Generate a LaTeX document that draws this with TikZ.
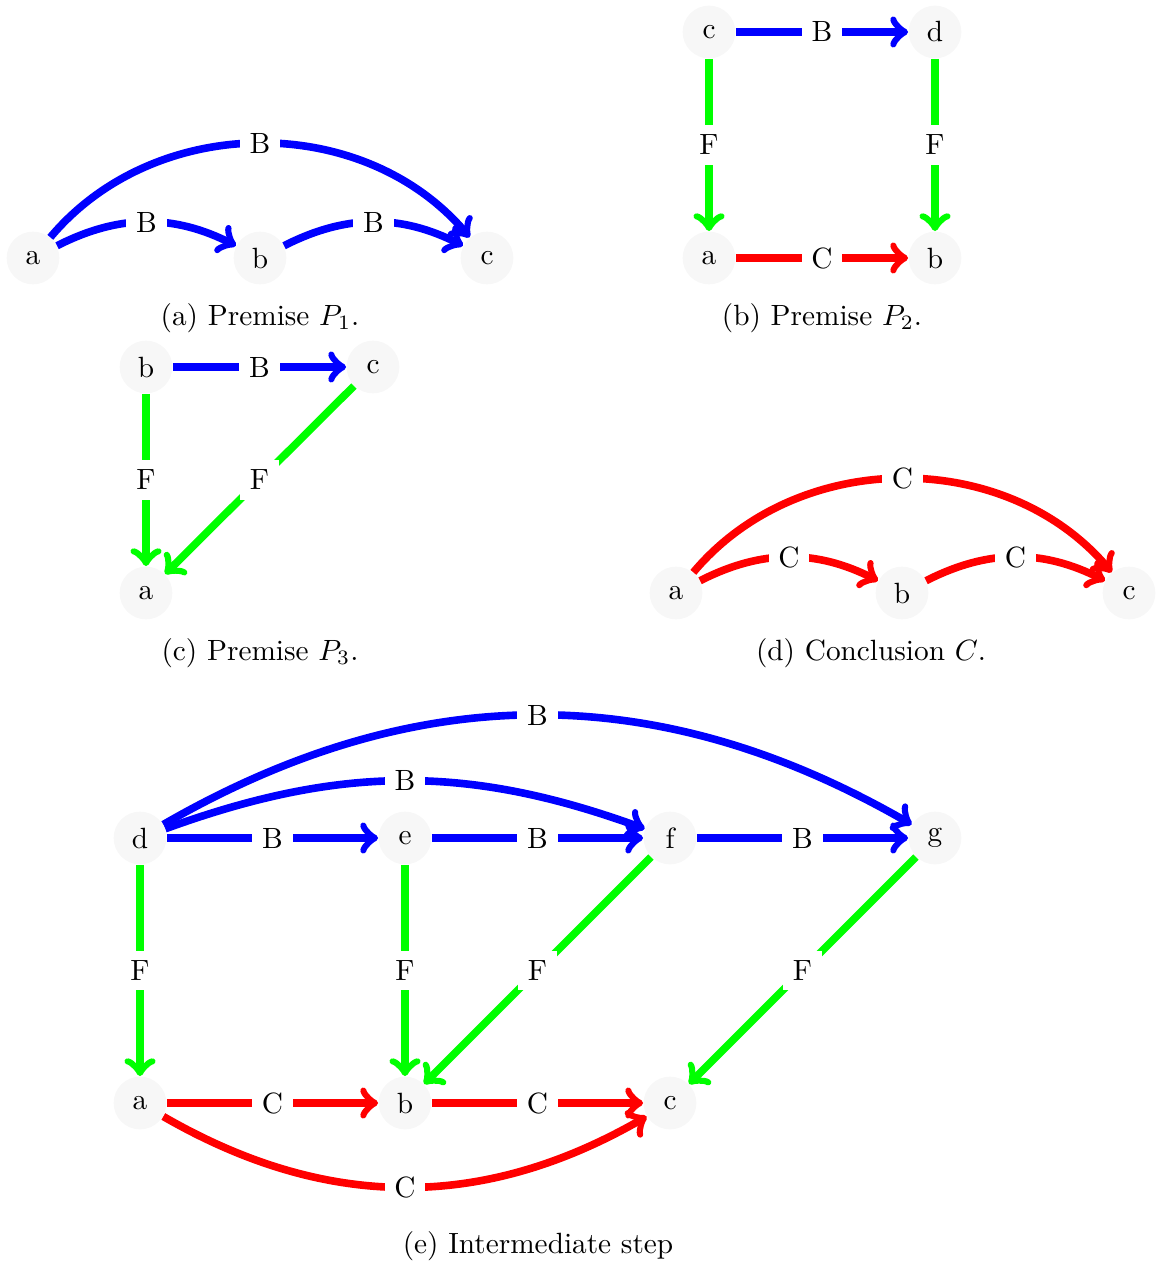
\documentclass[tikz,border=0pt]{standalone}
\begin{document}
\begin{tikzpicture}[x=0.3413pt,y=-0.3413pt,
  vtx/.style={circle,fill=black!3,minimum size=18pt,inner sep=0pt},
  lbl/.style={fill=white,midway},
  eB/.style={draw=blue,line width=2.6pt,->},
  eF/.style={draw=green,line width=2.6pt,->},
  eC/.style={draw=red,line width=2.6pt,->}]
\useasboundingbox (0,0) rectangle (1155,1266);
% (a)
\node[vtx] (a1) at (33,258) {a};
\node[vtx] (b1) at (260,258) {b};
\node[vtx] (c1) at (487,258) {c};
\draw[eB] (a1) to[bend left=27] node[lbl]{B} (b1);
\draw[eB] (b1) to[bend left=27] node[lbl]{B} (c1);
\draw[eB] (a1) to[bend left=50] node[lbl]{B} (c1);
\node (cap1) at (260,318) {(a) Premise $P_1$.};
% (b)
\node[vtx] (c2) at (709,32) {c};
\node[vtx] (d2) at (935,32) {d};
\node[vtx] (a2) at (709,258) {a};
\node[vtx] (b2) at (935,258) {b};
\draw[eB] (c2) to node[lbl]{B} (d2);
\draw[eF] (c2) to node[lbl]{F} (a2);
\draw[eF] (d2) to node[lbl]{F} (b2);
\draw[eC] (a2) to node[lbl]{C} (b2);
\node (cap2) at (822,318) {(b) Premise $P_2$.};
% (c)
\node[vtx] (b3) at (146,367) {b};
\node[vtx] (c3) at (373,367) {c};
\node[vtx] (a3) at (146,593) {a};
\draw[eB] (b3) to node[lbl]{B} (c3);
\draw[eF] (b3) to node[lbl]{F} (a3);
\draw[eF] (c3) to node[lbl]{F} (a3);
\node (cap3) at (260,653) {(c) Premise $P_3$.};
% (d)
\node[vtx] (a4) at (676,593) {a};
\node[vtx] (b4) at (902,593) {b};
\node[vtx] (c4) at (1129,593) {c};
\draw[eC] (a4) to[bend left=27] node[lbl]{C} (b4);
\draw[eC] (b4) to[bend left=27] node[lbl]{C} (c4);
\draw[eC] (a4) to[bend left=50] node[lbl]{C} (c4);
\node (cap4) at (871,653) {(d) Conclusion $C$.};
% (e)
\node[vtx] (d5) at (140,838) {d};
\node[vtx] (e5) at (405,838) {e};
\node[vtx] (f5) at (670,838) {f};
\node[vtx] (g5) at (935,838) {g};
\node[vtx] (a5) at (140,1103) {a};
\node[vtx] (b5) at (405,1103) {b};
\node[vtx] (c5) at (670,1103) {c};
\draw[eB] (d5) to node[lbl]{B} (e5);
\draw[eB] (e5) to node[lbl]{B} (f5);
\draw[eB] (f5) to node[lbl]{B} (g5);
\draw[eB] (d5) to[bend left=20] node[lbl]{B} (f5);
\draw[eB] (d5) to[bend left=30] node[lbl]{B} (g5);
\draw[eF] (d5) to node[lbl]{F} (a5);
\draw[eF] (e5) to node[lbl]{F} (b5);
\draw[eF] (f5) to node[lbl]{F} (b5);
\draw[eF] (g5) to node[lbl]{F} (c5);
\draw[eC] (a5) to node[lbl]{C} (b5);
\draw[eC] (b5) to node[lbl]{C} (c5);
\draw[eC] (a5) to[bend right=30] node[lbl]{C} (c5);
\node (cap5) at (538,1246) {(e) Intermediate step};
\end{tikzpicture}
\end{document}
